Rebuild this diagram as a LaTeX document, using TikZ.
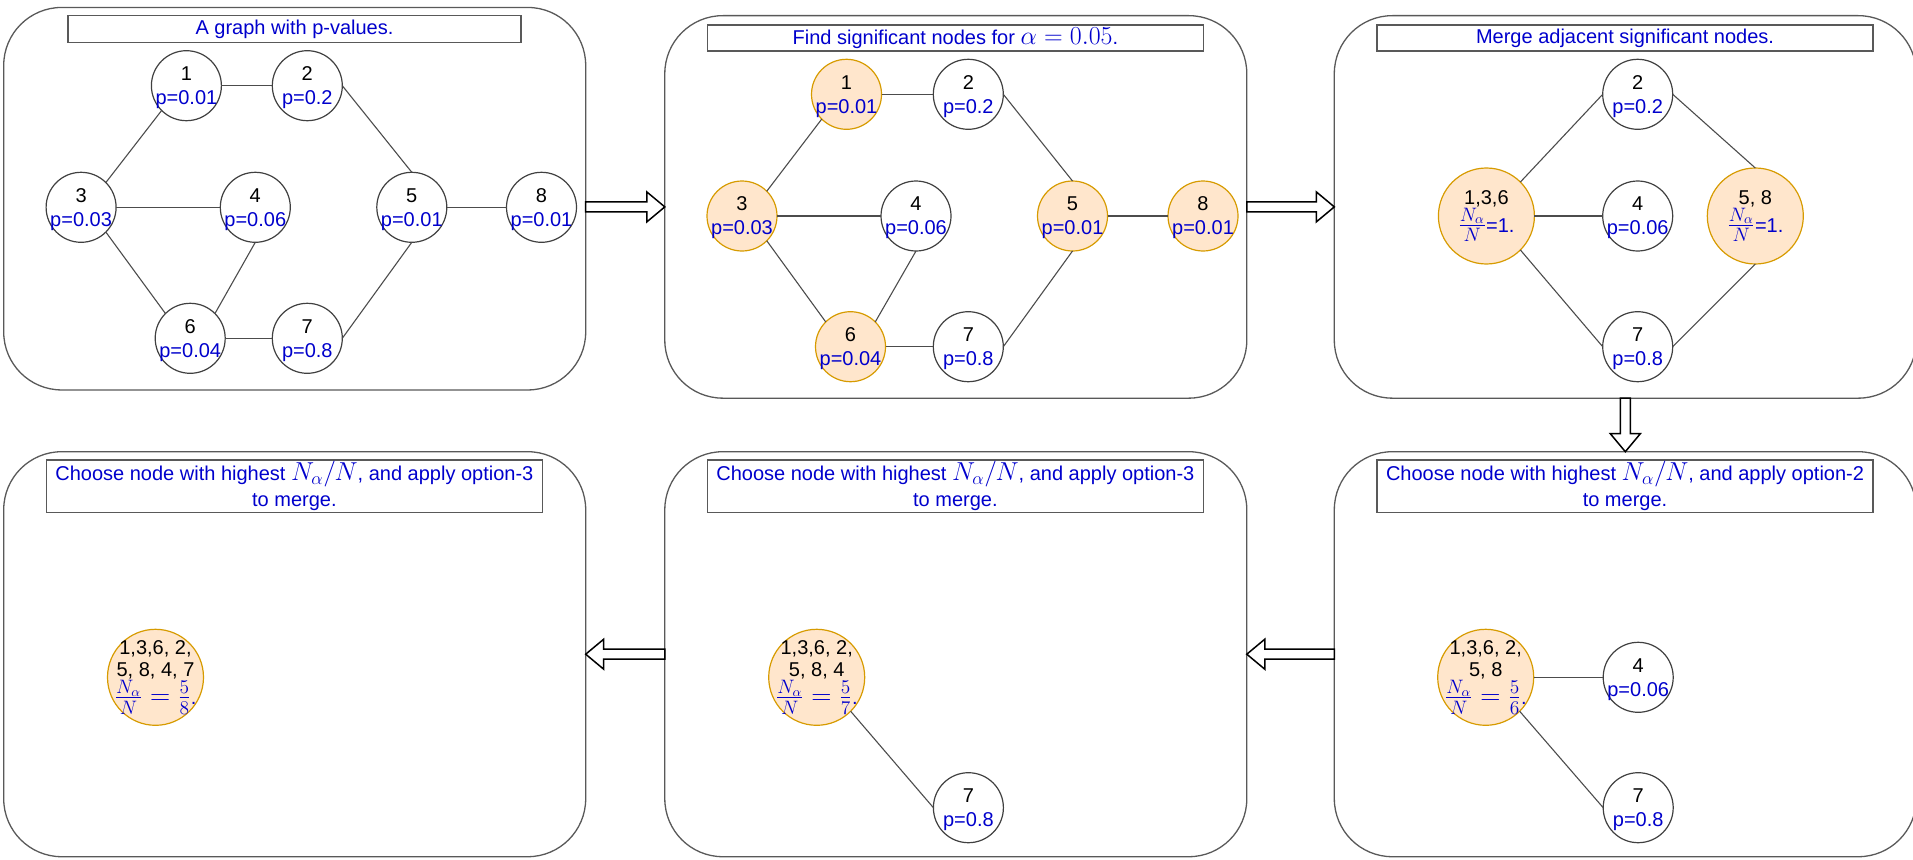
\documentclass[tikz,border=0pt]{standalone}
\usepackage[no-math]{fontspec}
\setmainfont{Liberation Sans}
\usepackage{graphicx}
\usetikzlibrary{calc}

\definecolor{txtblue}{HTML}{0000CC}
\definecolor{sigfill}{HTML}{FFE6CC}
\definecolor{sigdraw}{HTML}{D79B00}

% math set slightly larger than the surrounding text
\newcommand\mth[1]{\scalebox{1.25}{$#1$}}
\newcommand\frc[1]{\scalebox{1.35}{$#1$}}
% p-value line of a vertex (descender ignored for centring)
\newcommand\pv[1]{{\color{txtblue}\raisebox{0pt}[\height][0pt]{p=#1}}}
% vertex: [extra style]{name}{position}{number}{p-value}
\newcommand\vx[5][]{\node[vert,#1,label={[vtext]center:{#4\\\pv{#5}}}] (#2) at (#3) {};}

\begin{document}
\begin{tikzpicture}[x=1pt,y=-1pt,
  panel/.style={draw=black!65, line width=1.3pt, rounded corners=58pt,
    inner sep=0pt, outer sep=0pt, minimum width=582pt},
  toprow/.style={panel, minimum height=382.5pt},
  botrow/.style={panel, minimum height=405pt},
  titlebox/.style={draw=black!65, line width=1.2pt, inner sep=0pt, outer sep=0pt,
    font=\fontsize{20}{26}\selectfont, text=txtblue, align=center,
    minimum width=496pt, minimum height=26pt},
  vert/.style={circle, draw=black!75, fill=white, line width=1.2pt,
    minimum size=70pt, inner sep=0pt, outer sep=0pt},
  vtext/.style={font=\fontsize{20}{24}\selectfont, align=center, inner sep=0pt},
  sig/.style={fill=sigfill, draw=sigdraw},
  big/.style={minimum size=96pt},
  bigtext/.style={vtext, font=\fontsize{20}{22.7}\selectfont},
  edge/.style={draw=black!70, line width=1.1pt},
  % hollow block arrow: shaft 10pt wide, head 30pt wide and 18pt long
  flexarrow/.style={draw=black, fill=white, line width=1.5pt, line join=miter,
    to path={
      ($(\tikztostart)!5pt!90:(\tikztotarget)$)
      -- ($($(\tikztotarget)!18pt!(\tikztostart)$)!5pt!90:(\tikztotarget)$)
      -- ($($(\tikztotarget)!18pt!(\tikztostart)$)!15pt!90:(\tikztotarget)$)
      -- (\tikztotarget)
      -- ($($(\tikztotarget)!18pt!(\tikztostart)$)!15pt!-90:(\tikztotarget)$)
      -- ($($(\tikztotarget)!18pt!(\tikztostart)$)!5pt!-90:(\tikztotarget)$)
      -- ($(\tikztostart)!5pt!-90:(\tikztotarget)$)
      -- cycle}}
]
\useasboundingbox (0,0) rectangle (1913,859);
\clip (0,0) rectangle (1913,859);

% ---------- panels ----------
\node[toprow] (p1) at (294.7,198.7) {};
\node[toprow] (p2) at (955.8,206.9) {};
\node[toprow] (p3) at (1625.3,206.9) {};
\node[botrow] (p4) at (294.7,654.2) {};
\node[botrow] (p5) at (955.8,654.2) {};
\node[botrow] (p6) at (1625.3,654.2) {};

% ---------- panel captions ----------
\node[titlebox, minimum width=453pt, minimum height=26.6pt] (t1) at (294.5,29) {A graph with p-values.};
\node[titlebox] (t2) at (955.4,38) {Find significant nodes for \mth{\alpha = 0.05}.};
\node[titlebox] (t3) at (1625,38) {Merge adjacent significant nodes.};
\node[titlebox, minimum height=52.3pt] (t4) at (294.4,486.2)
  {Choose node with highest \mth{N_\alpha/N}, and apply option-3\\to merge.};
\node[titlebox, minimum height=52.3pt] (t5) at (955.4,486.2)
  {Choose node with highest \mth{N_\alpha/N}, and apply option-3\\to merge.};
\node[titlebox, minimum height=52.3pt] (t6) at (1625,486.2)
  {Choose node with highest \mth{N_\alpha/N}, and apply option-2\\to merge.};

% ---------- graph with p-values ----------
\vx{a1}{186.4,85.7}{1}{0.01}
\vx{a2}{307.3,85.7}{2}{0.2}
\vx{a3}{81.1,207.3}{3}{0.03}
\vx{a4}{255.3,207.3}{4}{0.06}
\vx{a5}{411.8,207.3}{5}{0.01}
\vx{a8}{541.5,207.3}{8}{0.01}
\vx{a6}{190.2,338.3}{6}{0.04}
\vx{a7}{307.3,338.3}{7}{0.8}
\draw[edge] (a1) -- (a2);
\draw[edge] (a3.45) -- (a1.-135);
\draw[edge] (a3) -- (a4);
\draw[edge] (a3.-45) -- (a6.135);
\draw[edge] (a4.south) -- (a6.45);
\draw[edge] (a2.east) -- (a5.north);
\draw[edge] (a5) -- (a8);
\draw[edge] (a6) -- (a7);
\draw[edge] (a7.east) -- (a5.south);

% ---------- significant nodes ----------
\vx[sig]{b1}{846.5,94.3}{1}{0.01}
\vx{b2}{968.3,94.3}{2}{0.2}
\vx[sig]{b3}{742,216}{3}{0.03}
\vx{b4}{916,216}{4}{0.06}
\vx[sig]{b5}{1072.5,216}{5}{0.01}
\vx[sig]{b8}{1203,216}{8}{0.01}
\vx[sig]{b6}{850.5,346.7}{6}{0.04}
\vx{b7}{968.3,346.7}{7}{0.8}
\draw[edge] (b1) -- (b2);
\draw[edge] (b3.45) -- (b1.-135);
\draw[edge] (b3) -- (b4);
\draw[edge] (b3.-45) -- (b6.135);
\draw[edge] (b4.south) -- (b6.45);
\draw[edge] (b2.east) -- (b5.north);
\draw[edge] (b5) -- (b8);
\draw[edge] (b6) -- (b7);
\draw[edge] (b7.east) -- (b5.south);

% ---------- merged adjacent nodes ----------
\node[vert, sig, big, label={[vtext]center:{1,3,6\\{\color{txtblue}\frc{\frac{N_\alpha}{N}}=1.}}}] (c136) at (1486.4,216) {};
\node[vert, sig, big, label={[vtext]center:{5, 8\\{\color{txtblue}\frc{\frac{N_\alpha}{N}}=1.}}}] (c58) at (1755.3,216) {};
\vx{c2}{1637.7,94.3}{2}{0.2}
\vx{c4}{1637.7,216}{4}{0.06}
\vx{c7}{1637.7,346.7}{7}{0.8}
\draw[edge] (c136.45) -- (c2.west);
\draw[edge] (c136) -- (c4);
\draw[edge] (c136.-45) -- (c7.west);
\draw[edge] (c2.east) -- (c58.north);
\draw[edge] (c7.east) -- (c58.south);

% ---------- option-2 merge ----------
\node[vert, sig, big, label={[bigtext]center:{1,3,6, 2,\\5, 8\\{\color{txtblue}\frc{\frac{N_\alpha}{N}=\frac{5}{6}}.}}}] (f) at (1485.7,677.3) {};
\vx{f4}{1638.2,677.3}{4}{0.06}
\vx{f7}{1638.2,807.7}{7}{0.8}
\draw[edge] (f) -- (f4);
\draw[edge] (f.-45) -- (f7.west);

% ---------- first option-3 merge ----------
\node[vert, sig, big, label={[bigtext]center:{1,3,6, 2,\\5, 8, 4\\{\color{txtblue}\frc{\frac{N_\alpha}{N}=\frac{5}{7}}.}}}] (e) at (816.7,677.3) {};
\vx{e7}{968.4,807.7}{7}{0.8}
\draw[edge] (e.-45) -- (e7.west);

% ---------- second option-3 merge ----------
\node[vert, sig, big, label={[bigtext]center:{1,3,6, 2,\\5, 8, 4, 7\\{\color{txtblue}\frc{\frac{N_\alpha}{N}=\frac{5}{8}}.}}}] (d) at (155.5,677.3) {};

% ---------- block arrows between panels ----------
\coordinate (s12) at (p1.east |- p2.west);
\draw[flexarrow] (s12) to (p2.west);
\draw[flexarrow] (p2.east) to (p3.west);
\draw[flexarrow] (p3.south) to (p6.north);
\draw[flexarrow] (p6.west) to (p5.east);
\draw[flexarrow] (p5.west) to (p4.east);
\end{tikzpicture}
\end{document}
